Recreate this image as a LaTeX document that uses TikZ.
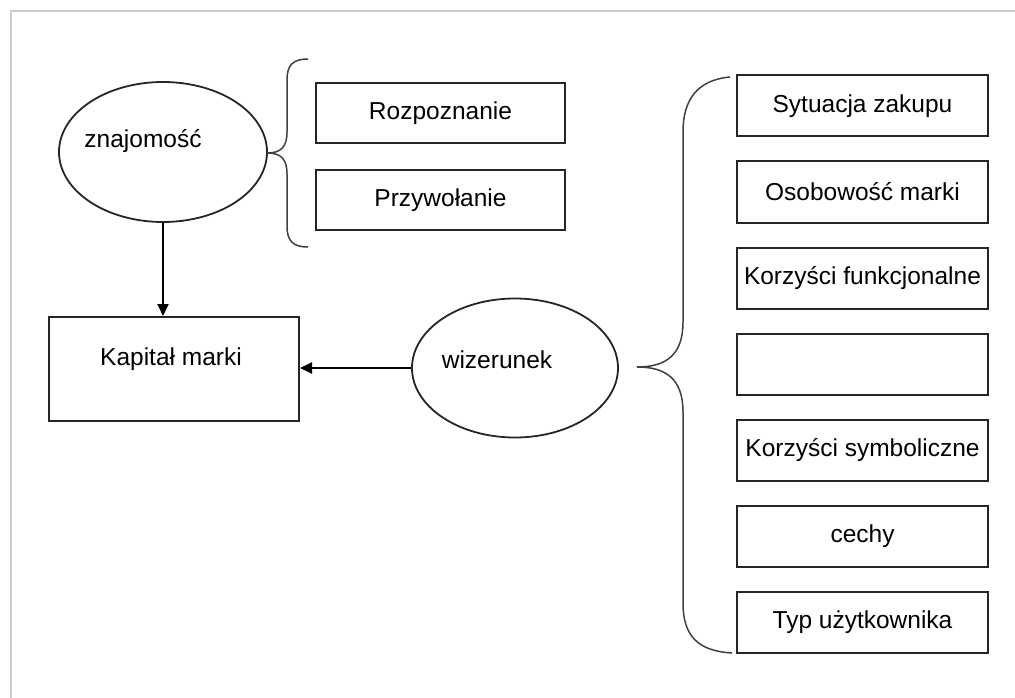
\documentclass[tikz,border=0pt]{standalone}
\usepackage{fontspec}
\setmainfont{Liberation Sans}
\usetikzlibrary{shapes.geometric,arrows.meta}
\begin{document}
\begin{tikzpicture}
[x=1pt,y=-1pt,%
 boxstyle/.style={draw=black!85,line width=2pt,minimum width=251pt,minimum height=61pt,inner sep=0pt},%
 ovalstyle/.style={draw=black!85,line width=1.8pt,ellipse,minimum width=208pt,minimum height=140pt},%
 bracestyle/.style={draw=black!75,line width=1.5pt},%
 arrowstyle/.style={line width=1.8pt,-{Triangle[length=12pt,width=11pt]}},%
 framestyle/.style={draw=black!20,line width=1.2pt},%
 font=\fontsize{24.5}{29}\selectfont]
\useasboundingbox (0,0) rectangle (1015,698);
%% outer frame
\draw[framestyle] (11,698) -- (11,11) -- (1015,11);
%% left part
\node[ovalstyle] (znaj) at (163,152) {};
\node (znajtxt) at (143,141) {znajomość};
\node[boxstyle,minimum width=249pt,minimum height=60pt] (rozp) at (440.5,113.5) {Rozpoznanie};
\node[boxstyle,minimum width=249pt,minimum height=60pt] (przyw) at (440.5,200) {Przywołanie};
\node[boxstyle,minimum width=250pt,minimum height=104pt] (kapital) at (174,369) {};
\node (kapitaltxt) at (171,359) {Kapitał marki};
\node[ovalstyle,minimum width=206pt,minimum height=139pt] (wiz) at (515,368) {};
\node (wiztxt) at (497,360) {wizerunek};
%% attributes of the image
\foreach \txt [count=\i] in {Sytuacja zakupu,Osobowość marki,Korzyści funkcjonalne,{},Korzyści symboliczne,cechy,Typ użytkownika}
  \node[boxstyle] (attr\i) at (862.5,{106+86*(\i-1)}) {\txt};
%% braces
\draw[bracestyle] (308,59) .. controls (293,59) and (287,65) .. (287,80) -- (287,132)
  .. controls (287,147) and (281,153) .. (267,153)
  .. controls (281,153) and (287,159) .. (287,174) -- (287,226)
  .. controls (287,241) and (293,247) .. (308,247);
\draw[bracestyle] (730,77) .. controls (697,80) and (683,100) .. (683,132) -- (683,322)
  .. controls (683,355) and (666,367) .. (637,367)
  .. controls (666,367) and (683,379) .. (683,412) -- (683,603)
  .. controls (683,636) and (698,651) .. (732,653);
%% arrows
\draw[arrowstyle] (znaj.south) -- (kapital.north -| znaj.south);
\draw[arrowstyle] (wiz.west) -- (kapital.east |- wiz.west);
\end{tikzpicture}
\end{document}
